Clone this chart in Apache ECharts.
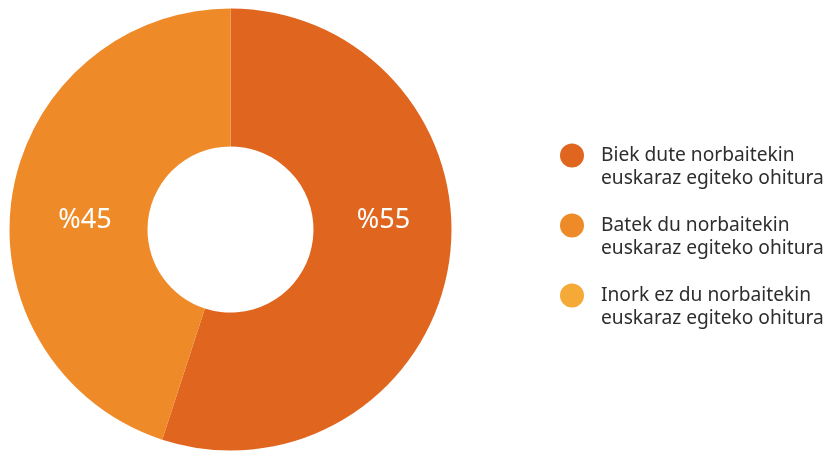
<!DOCTYPE html>
<html>
<head>
<meta charset="utf-8">
<script src="https://cdn.jsdelivr.net/npm/echarts@6/dist/echarts.min.js"></script>
<style>
  html, body { margin: 0; padding: 0; background: #ffffff; }
  #chart { width: 827px; height: 451px; }
</style>
</head>
<body>
<div id="chart"></div>
<script>
// Share of couples by who has the habit of speaking Basque with someone
const categories = [
  'Biek dute norbaitekin\neuskaraz egiteko ohitura',
  'Batek du norbaitekin\neuskaraz egiteko ohitura',
  'Inork ez du norbaitekin\neuskaraz egiteko ohitura'
];
const values = [55, 45, 0];
const colors = ['#E0661F', '#EE8B28', '#F5AA37'];

// label anchor points inside the ring
const labelSpots = [[383.5, 220], [85, 220]];

const chart = echarts.init(document.getElementById('chart'), null, { renderer: 'canvas' });

chart.setOption({
  animation: false,
  color: colors,
  legend: {
    orient: 'vertical',
    left: 560,
    top: 121,
    padding: 0,
    icon: 'circle',
    itemWidth: 24,
    itemHeight: 24,
    itemGap: 1,
    selectedMode: false,
    // leading blank line keeps the marker level with the first text line
    formatter: name => '\u00a0\n' + name,
    textStyle: {
      fontFamily: 'Noto Sans',
      fontSize: 19.2,
      lineHeight: 23,
      color: '#2e2e2e',
      padding: [0, 0, 0, 12]
    },
    data: categories
  },
  series: [{
    type: 'pie',
    center: [230.5, 229.5],
    radius: [83, 221],
    startAngle: 90,
    clockwise: true,
    silent: true,
    avoidLabelOverlap: false,
    label: {
      show: true,
      position: 'inside',
      color: '#ffffff',
      fontFamily: 'Noto Sans',
      fontSize: 27,
      formatter: p => (p.value > 0 ? '%' + p.value : '')
    },
    labelLine: { show: false },
    labelLayout: p => {
      const s = labelSpots[p.dataIndex];
      return s ? { x: s[0], y: s[1], align: 'center', verticalAlign: 'middle' } : {};
    },
    itemStyle: { borderWidth: 0 },
    data: categories.map((name, i) => ({ name: name, value: values[i] }))
  }]
});
</script>
</body>
</html>
